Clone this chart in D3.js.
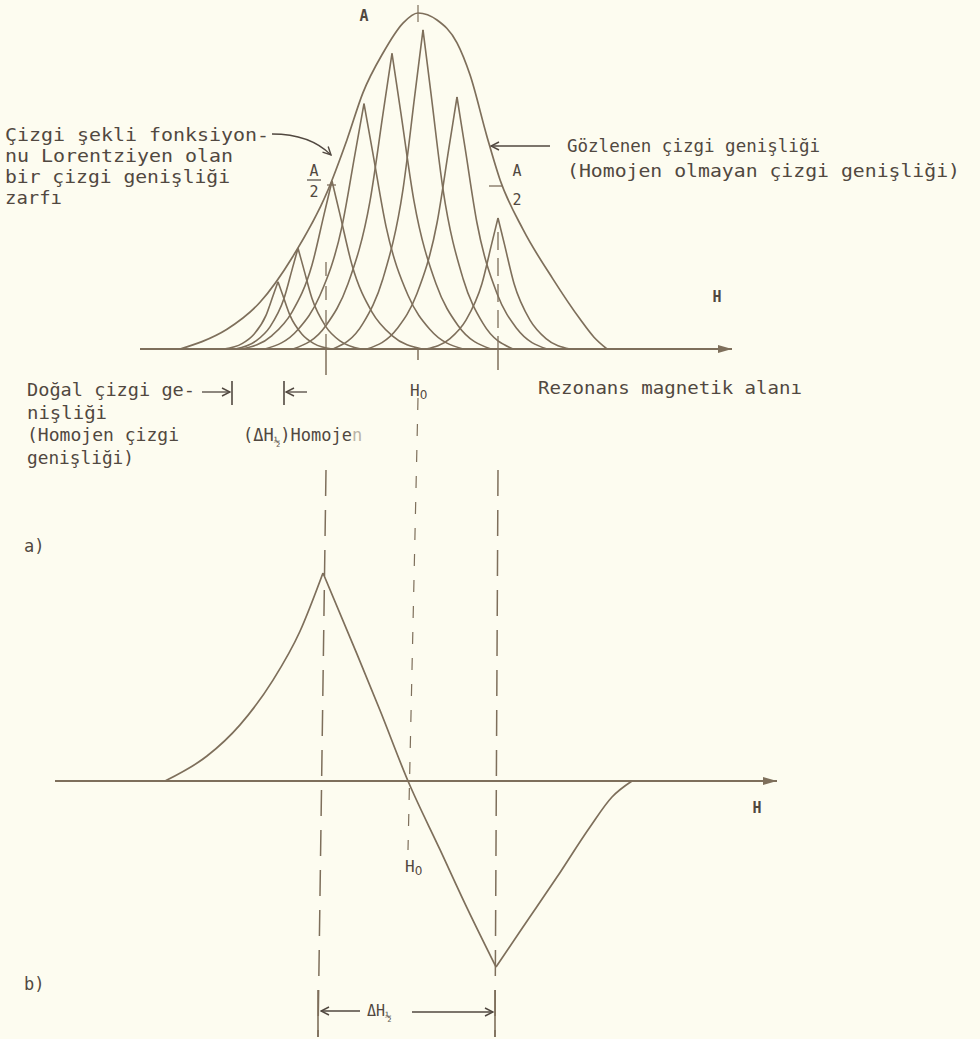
<!DOCTYPE html>
<html>
<head>
<meta charset="utf-8">
<script src="https://cdn.jsdelivr.net/npm/d3@7"></script>
<style>
  html, body { margin: 0; padding: 0; background: #fdfcf0; }
  svg { display: block; }
</style>
</head>
<body>
<svg id="chart" width="980" height="1039"></svg>
<script>
// Magnetic field axis in arbitrary units, resonance field H0 at 0
const fieldDomain = [-70, 80];

// (a) Observed, inhomogeneously broadened absorption envelope
const envelopeH = [-59.5, -54, -47.75, -39.5, -31.25, -22.75, -17.75, -13.75, -8.75, -3.75, 0, 4.75, 9.75, 13, 17.25, 20.5, 26.25, 33.75, 40.5, 44, 47.25];
const envelopeA = [0, 2.2, 5.9, 13.9, 27.6, 46.6, 62.3, 76.3, 88.1, 97, 100, 97.9, 91.1, 81.6, 63.2, 50.4, 35.6, 20.8, 8.9, 3.5, 0];

// (a) Individual Lorentzian spin packets, left flank and right flank as [H, A]
const packetLeft = [
  [[-48.5, 0], [-44, 1.6], [-41, 4.4], [-38, 10], [-36.2, 16], [-35, 20]],
  [[-45.75, 0], [-40.5, 2.4], [-37, 6.6], [-33.5, 15], [-31.4, 24], [-30, 30]],
  [[-44, 0], [-36.5, 4], [-31.5, 11], [-26.5, 25], [-23.5, 40], [-21.5, 50]],
  [[-38.25, 0], [-30, 5.8], [-24.5, 16], [-19, 36.5], [-15.7, 58.4], [-13.5, 73]],
  [[-31.25, 0], [-23, 7], [-17.5, 19.4], [-12, 44], [-8.7, 70.4], [-6.5, 88]],
  [[-21.25, 0], [-13.75, 7.6], [-8.75, 21], [-3.75, 47.5], [-0.75, 76], [1.25, 95]],
  [[-12.75, 0], [-5.25, 6], [-0.25, 16.5], [4.75, 37.5], [7.75, 60], [9.75, 75]],
  [[2, 0], [8, 3.1], [12, 8.6], [16, 19.5], [18.4, 31.2], [20, 39]]
];
const packetRight = [
  [[-35, 20], [-33.8, 16], [-32, 10], [-29, 4.4], [-26, 1.6], [-21.5, 0]],
  [[-30, 30], [-28.6, 24], [-26.5, 15], [-23, 6.6], [-19.5, 2.4], [-14.25, 0]],
  [[-21.5, 50], [-19.5, 40], [-16.5, 25], [-11.5, 11], [-6.5, 4], [1, 0]],
  [[-13.5, 73], [-11.3, 58.4], [-8, 36.5], [-2.5, 16], [3, 5.8], [11.25, 0]],
  [[-6.5, 88], [-4.3, 70.4], [-1, 44], [4.5, 19.4], [10, 7], [18.25, 0]],
  [[1.25, 95], [3.25, 76], [6.25, 47.5], [11.25, 21], [16.25, 7.6], [23.75, 0]],
  [[9.75, 75], [11.75, 60], [14.75, 37.5], [19.75, 16.5], [24.75, 6], [32.25, 0]],
  [[20, 39], [21.6, 31.2], [24, 19.5], [28, 8.6], [32, 3.1], [38, 0]]
];

// (b) First-derivative curve, split at its extrema
const derivRiseH = [-63.25, -52.75, -44.5, -36.25, -29.5, -23.75];
const derivRiseV = [0, 12, 27, 48.5, 72, 100];
const derivFallH = [-23.75, -15.25, -9.5, -2.5, 5.5, 12.25, 19.5];
const derivFallV = [100, 61, 34, 0, -33, -61, -89.4];
const derivTailH = [19.5, 26.25, 34.75, 43, 48.5, 53.5];
const derivTailV = [-89.4, -70.2, -46.2, -22.1, -7.7, 0];

// Field positions of the marked lines: half-height points and H0
const halfLeftH = -23;
const halfRightH = 20;
const centerH = 0;
const derivZeroH = -2.5;
// drift of each hand-drawn guide between panel (a) and the bottom of the sheet
const leftDrift = -2;
const rightDrift = -0.75;

const ink = "#7e6f5b";
const textInk = "#514840";
const mono = "'DejaVu Sans Mono', 'Liberation Mono', monospace";

const svg = d3.select("#chart");
svg.append("rect").attr("width", 980).attr("height", 1039).attr("fill", "#fdfcf0");

const x = d3.scaleLinear().domain(fieldDomain).range([138, 738]);
const yTop = d3.scaleLinear().domain([0, 100]).range([349, 13]);
const yBot = d3.scaleLinear().domain([-100, 100]).range([989, 573]);

// Arrowheads
const defs = svg.append("defs");
defs.append("marker").attr("id", "solidHead")
  .attr("viewBox", "0 0 14 8").attr("refX", 14).attr("refY", 4)
  .attr("markerWidth", 14).attr("markerHeight", 8)
  .attr("markerUnits", "userSpaceOnUse").attr("orient", "auto")
  .append("path").attr("d", "M0,0 L14,4 L0,8 Z").attr("fill", ink);
defs.append("marker").attr("id", "openHead")
  .attr("viewBox", "0 0 10 10").attr("refX", 9).attr("refY", 5)
  .attr("markerWidth", 10).attr("markerHeight", 10)
  .attr("markerUnits", "userSpaceOnUse").attr("orient", "auto")
  .append("path").attr("d", "M1,1 L9,5 L1,9").attr("fill", "none")
  .attr("stroke", textInk).attr("stroke-width", 1.4);

const g = svg.append("g");

// ---------- (a) absorption ----------
const topLine = d3.line().x(d => x(d[0])).y(d => yTop(d[1])).curve(d3.curveMonotoneX);

g.append("line")
  .attr("x1", x(-69.5)).attr("x2", x(78.5))
  .attr("y1", yTop(0)).attr("y2", yTop(0))
  .attr("stroke", ink).attr("stroke-width", 2)
  .attr("marker-end", "url(#solidHead)");

packetLeft.forEach((flank, i) => {
  [flank, packetRight[i]].forEach(pts => {
    g.append("path").attr("d", topLine(pts))
      .attr("fill", "none").attr("stroke", ink).attr("stroke-width", 1.6);
  });
});

g.append("path")
  .attr("d", topLine(envelopeH.map((h, i) => [h, envelopeA[i]])))
  .attr("fill", "none").attr("stroke", ink).attr("stroke-width", 1.7);

// tick at the envelope maximum
g.append("line").attr("x1", x(centerH)).attr("x2", x(centerH))
  .attr("y1", 5).attr("y2", 22).attr("stroke", ink).attr("stroke-width", 1.2);

// baseline ticks
[[halfLeftH, 375], [centerH, 360], [halfRightH, 370]].forEach(([h, yEnd]) => {
  g.append("line").attr("x1", x(h)).attr("x2", x(h))
    .attr("y1", yTop(0)).attr("y2", yEnd)
    .attr("stroke", ink).attr("stroke-width", 1.5);
});

// dashed half-height verticals inside panel (a)
g.append("line").attr("x1", x(halfLeftH)).attr("x2", x(halfLeftH))
  .attr("y1", 262).attr("y2", yTop(0))
  .attr("stroke", ink).attr("stroke-width", 1.3).attr("stroke-dasharray", "14,10");
g.append("line").attr("x1", x(halfRightH)).attr("x2", x(halfRightH))
  .attr("y1", 232).attr("y2", yTop(0))
  .attr("stroke", ink).attr("stroke-width", 1.3).attr("stroke-dasharray", "18,8");

// half-height markers
g.append("line").attr("x1", 327).attr("x2", 336).attr("y1", 185).attr("y2", 185)
  .attr("stroke", ink).attr("stroke-width", 1.3);
g.append("line").attr("x1", 489).attr("x2", 503).attr("y1", 186).attr("y2", 186)
  .attr("stroke", ink).attr("stroke-width", 1.3);
g.append("line").attr("x1", 307).attr("x2", 321).attr("y1", 180).attr("y2", 180)
  .attr("stroke", textInk).attr("stroke-width", 1.2);

function label(px, py, str, opts = {}) {
  const t = g.append("text")
    .attr("x", px).attr("y", py)
    .attr("font-family", mono)
    .attr("font-size", opts.size || 18)
    .attr("font-weight", opts.weight || "normal")
    .attr("fill", opts.fill || textInk)
    .attr("text-anchor", opts.anchor || "start")
    .text(str);
  if (opts.len) t.attr("textLength", opts.len).attr("lengthAdjust", "spacingAndGlyphs");
  return t;
}
function subscriptO(t) {
  t.append("tspan").attr("font-family", "'DejaVu Sans', sans-serif")
    .attr("font-size", 12).attr("dy", 3).text("0");
}

label(364, 21, "A", { size: 15, anchor: "middle", weight: "bold" });
label(314, 176, "A", { size: 15, anchor: "middle" });
label(314, 197, "2", { size: 15, anchor: "middle" });
label(517, 176, "A", { size: 15, anchor: "middle" });
label(517, 205, "2", { size: 15, anchor: "middle" });
label(717, 302, "H", { size: 15, anchor: "middle", weight: "bold" });

// resonance field label
subscriptO(label(410, 396, "H", { size: 16 }));

// left annotation: Lorentzian packet
label(5, 141, "Çizgi şekli fonksiyon-", { len: 264 });
label(5, 162, "nu Lorentziyen olan", { len: 228 });
label(5, 183, "bir çizgi genişliği", { len: 225 });
label(5, 204, "zarfı", { len: 57 });
g.append("path").attr("d", "M272,134 Q310,134 331,155")
  .attr("fill", "none").attr("stroke", textInk).attr("stroke-width", 1.3)
  .attr("marker-end", "url(#openHead)");

// right annotation: observed width
label(567, 152, "Gözlenen çizgi genişliği", { len: 253 });
label(567, 177, "(Homojen olmayan çizgi genişliği)", { len: 393 });
g.append("line").attr("x1", 550).attr("x2", 491).attr("y1", 146).attr("y2", 146)
  .attr("stroke", textInk).attr("stroke-width", 1.4)
  .attr("marker-end", "url(#openHead)");

// natural (homogeneous) width note
label(27, 396, "Doğal çizgi ge-", { len: 168 });
label(27, 419, "nişliği", { len: 80 });
label(27, 441, "(Homojen çizgi", { len: 152 });
label(27, 464, "genişliği)", { len: 107 });
g.append("line").attr("x1", 202).attr("x2", 230).attr("y1", 392).attr("y2", 392)
  .attr("stroke", textInk).attr("stroke-width", 1.3).attr("marker-end", "url(#openHead)");
g.append("line").attr("x1", 307).attr("x2", 286).attr("y1", 392).attr("y2", 392)
  .attr("stroke", textInk).attr("stroke-width", 1.3).attr("marker-end", "url(#openHead)");
[232, 284].forEach(bx => {
  g.append("line").attr("x1", bx).attr("x2", bx).attr("y1", 381).attr("y2", 405)
    .attr("stroke", textInk).attr("stroke-width", 1.6);
});
const homLabel = label(243, 441, "(ΔH", { size: 17 });
homLabel.append("tspan").attr("font-size", 11).attr("dy", 4).text("½");
homLabel.append("tspan").attr("dy", -4).text(")Homoje");
homLabel.append("tspan").attr("fill", "#b9b2a6").text("n");

label(538, 394, "Rezonans magnetik alanı", { len: 264 });

label(24, 552, "a)", { size: 17 });
label(24, 990, "b)", { size: 17 });

// ---------- long guide lines shared by both panels ----------
[[halfLeftH, leftDrift], [halfRightH, rightDrift]].forEach(([h, drift]) => {
  g.append("line").attr("x1", x(h)).attr("x2", x(h + drift))
    .attr("y1", 470).attr("y2", 1037)
    .attr("stroke", ink).attr("stroke-width", 1.5).attr("stroke-dasharray", "26,14");
});
g.append("line").attr("x1", x(centerH)).attr("x2", x(derivZeroH))
  .attr("y1", 398).attr("y2", 850)
  .attr("stroke", ink).attr("stroke-width", 1.2).attr("stroke-dasharray", "12,14");

// ---------- (b) derivative ----------
const botLine = d3.line().x(d => x(d[0])).y(d => yBot(d[1])).curve(d3.curveMonotoneX);

g.append("line")
  .attr("x1", x(-90.75)).attr("x2", x(89.75))
  .attr("y1", yBot(0)).attr("y2", yBot(0))
  .attr("stroke", ink).attr("stroke-width", 2)
  .attr("marker-end", "url(#solidHead)");

[[derivRiseH, derivRiseV], [derivFallH, derivFallV], [derivTailH, derivTailV]].forEach(([hs, vs]) => {
  g.append("path").attr("d", botLine(hs.map((h, i) => [h, vs[i]])))
    .attr("fill", "none").attr("stroke", ink).attr("stroke-width", 1.7);
});

label(757, 813, "H", { size: 15, anchor: "middle", weight: "bold" });
subscriptO(label(405, 872, "H", { size: 16 }));

// peak-to-peak width bracket
const bracketL = x(halfLeftH + leftDrift);
const bracketR = x(halfRightH + rightDrift);
[bracketL, bracketR].forEach(bx => {
  g.append("line").attr("x1", bx).attr("x2", bx).attr("y1", 990).attr("y2", 1037)
    .attr("stroke", ink).attr("stroke-width", 1.6);
});
g.append("line").attr("x1", 360).attr("x2", bracketL + 3).attr("y1", 1011).attr("y2", 1011)
  .attr("stroke", textInk).attr("stroke-width", 1.3).attr("marker-end", "url(#openHead)");
g.append("line").attr("x1", 412).attr("x2", bracketR - 2).attr("y1", 1012).attr("y2", 1012)
  .attr("stroke", textInk).attr("stroke-width", 1.3).attr("marker-end", "url(#openHead)");
const ppLabel = label(367, 1016, "ΔH", { size: 15 });
ppLabel.append("tspan").attr("font-size", 11).attr("dy", 4).text("½");
</script>
</body>
</html>
